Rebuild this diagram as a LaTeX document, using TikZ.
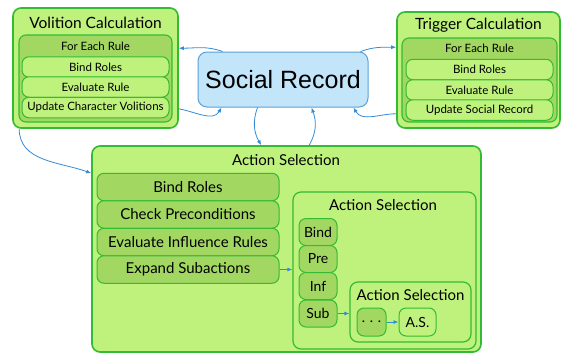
\documentclass[tikz,border=0pt]{standalone}
\usepackage{fontspec}
\setmainfont{Lato}
\newfontfamily\srfont{Liberation Sans}
\usetikzlibrary{arrows.meta,calc}
\definecolor{grnL}{RGB}{190,242,124}
\definecolor{grnD}{RGB}{162,216,98}
\definecolor{grnB}{RGB}{52,186,52}
\definecolor{bluF}{RGB}{194,229,250}
\definecolor{bluB}{RGB}{92,160,214}
\definecolor{arr}{RGB}{52,140,214}
\tikzset{
  box/.style={draw=grnB, line width=1.3pt, rounded corners=8pt, inner sep=0pt, minimum width=#1},
  outerbox/.style={box=#1, fill=grnL, line width=1.6pt},
  innerbox/.style={box=#1, fill=grnD, line width=1.1pt, rounded corners=7pt},
  lightsub/.style={box=#1, fill=grnL, line width=1pt, rounded corners=7pt},
  darksub/.style={box=#1, fill=grnD, line width=1pt, rounded corners=7pt},
  title/.style={inner sep=0pt, font=\fontsize{15.5}{17}\selectfont},
  smalltxt/.style={font=\fontsize{11.5}{13}\selectfont},
  midtitle/.style={inner sep=0pt, font=\fontsize{15}{17}\selectfont},
  bigtxt/.style={font=\fontsize{15}{17}\selectfont},
  tinytxt/.style={font=\fontsize{14}{16}\selectfont},
  conn/.style={draw=arr, line width=0.8pt, -{Latex[length=5pt,width=4pt]}},
}
\begin{document}
\begin{tikzpicture}[x=1pt,y=-1pt]
\useasboundingbox[fill=white] (0,0) rectangle (561,354);
% Volition Calculation
\node[outerbox=165pt, minimum height=120pt] (V) at (95.5,68) {};
\node[title] (Vt) at (95.5,23) {Volition Calculation};
\node[innerbox=153pt, minimum height=87pt] (Vi) at (95.5,78.5) {};
\node[inner sep=0pt, smalltxt] (Vf) at (95.5,46) {For Each Rule};
\node[lightsub=147pt, minimum height=20.5pt, smalltxt] (Vb) at (95.5,67) {Bind Roles};
\node[lightsub=147pt, minimum height=20.5pt, smalltxt] (Ve) at (95.5,87) {Evaluate Rule};
\node[lightsub=147pt, minimum height=20.5pt, smalltxt] (Vu) at (95.5,107.5) {Update Character Volitions};
% Trigger Calculation
\node[outerbox=163pt, minimum height=116pt] (T) at (478.5,70) {};
\node[title] (Tt) at (478.5,25) {Trigger Calculation};
\node[innerbox=155pt, minimum height=84pt] (Ti) at (479.5,80) {};
\node[inner sep=0pt, smalltxt] (Tf) at (479.5,48) {For Each Rule};
\node[lightsub=147pt, minimum height=20.5pt, smalltxt] (Tb) at (479.5,69.5) {Bind Roles};
\node[lightsub=147pt, minimum height=20.5pt, smalltxt] (Te) at (479.5,90) {Evaluate Rule};
\node[lightsub=147pt, minimum height=20.5pt, smalltxt] (Tu) at (479.5,110) {Update Social Record};
% Social Record
\node[draw=bluB, fill=bluF, line width=1pt, rounded corners=9pt, minimum width=170pt, minimum height=55pt, inner sep=0pt, font=\srfont\fontsize{25}{28}\selectfont] (SR) at (283,79.5) {Social Record};
% Action Selection (outer)
\node[outerbox=389pt, minimum height=206pt] (AS) at (286.5,249) {};
\node[midtitle] (ASt) at (286,160) {Action Selection};
\node[darksub=182pt, minimum height=27.5pt, bigtxt] (Ab) at (188,187) {Bind Roles};
\node[darksub=182pt, minimum height=27.5pt, bigtxt] (Ac) at (188,214.5) {Check Preconditions};
\node[darksub=182pt, minimum height=27.5pt, bigtxt] (Ae) at (188,242) {Evaluate Influence Rules};
\node[darksub=182pt, minimum height=27.5pt, bigtxt] (Ax) at (188,269.5) {Expand Subactions};
% Action Selection 2
\node[lightsub=183pt, minimum height=157pt, line width=1.2pt, rounded corners=8pt] (B) at (384.5,270.5) {};
\node[midtitle] (Bt) at (383,205) {Action Selection};
\node[darksub=38pt, minimum height=27pt, tinytxt] (Bb) at (318,232) {Bind};
\node[darksub=38pt, minimum height=27pt, tinytxt] (Bp) at (318,259) {Pre};
\node[darksub=38pt, minimum height=27pt, tinytxt] (Bi) at (318,286) {Inf};
\node[darksub=38pt, minimum height=27pt, tinytxt] (Bs) at (318,313.5) {Sub};
% Action Selection 3
\node[lightsub=121pt, minimum height=60pt, line width=1.2pt, rounded corners=8pt] (C) at (410.5,312) {};
\node[midtitle] (Ct) at (410.5,295) {Action Selection};
\node[darksub=29pt, minimum height=28pt, tinytxt] (Cd) at (371.5,322) {. . .};
\node[lightsub=37pt, minimum height=28pt, tinytxt] (Ca) at (417.5,322) {A.S.};
% connectors
\draw[conn] (Ax.east) -- (Ax.east -| B.west);
\draw[conn] (Bs.east) -- (Bs.east -| C.west);
\draw[conn] (Cd.east) -- (Ca.west);
\draw[conn] ([xshift=25pt]SR.north west) to[out=160,in=0] ([yshift=-41pt]V.north east);
\draw[conn] ([yshift=20pt]V.south east) to[out=-10,in=-120] ([xshift=24pt]SR.south west);
\draw[conn] ([xshift=-8pt]SR.north east) to[out=20,in=180] ([yshift=-36pt]T.north west);
\draw[conn] ([yshift=15pt]T.south west) to[out=180,in=-60] ([xshift=-15pt]SR.south east);
\draw[conn] ([xshift=60pt]SR.south west) to[out=-110,in=120] ([xshift=170pt]AS.north west);
\draw[conn] ([xshift=218pt]AS.north west) to[out=60,in=-70] ([xshift=114pt]SR.south west);
\draw[conn] ([xshift=7pt]V.south west) to[out=-90,in=160] ([yshift=-28pt]AS.north west);
\end{tikzpicture}
\end{document}
